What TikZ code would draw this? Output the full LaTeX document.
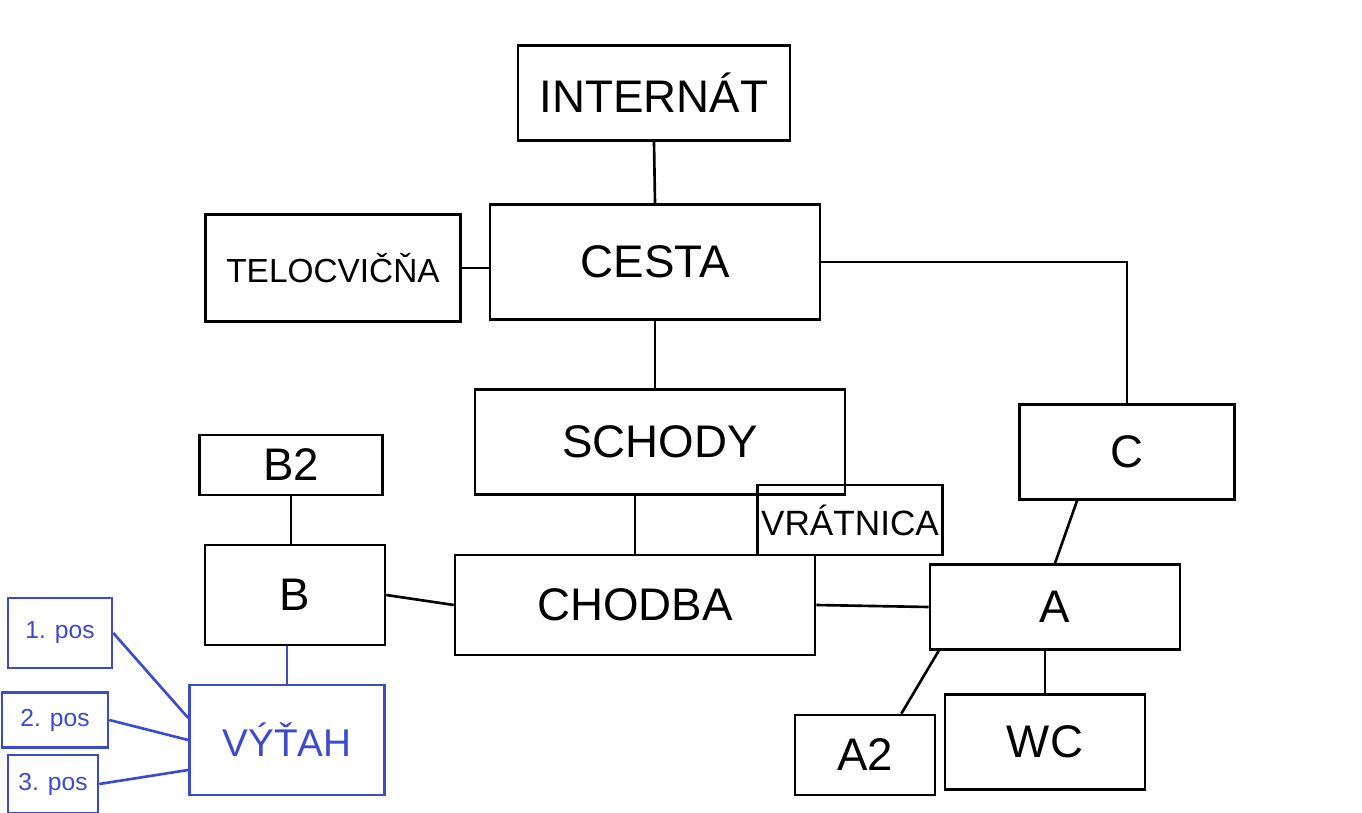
\documentclass[tikz,border=0pt]{standalone}
\usepackage{fontspec}
\setmainfont{Liberation Sans}
\definecolor{penblue}{RGB}{60,75,205}
\tikzset{
  room/.style={draw, line width=1.5pt, inner sep=2pt, font=\fontsize{26}{28}\selectfont},
  liftroom/.style={room, draw=penblue, text=penblue},
  link/.style={line width=1.5pt},
  liftlink/.style={link, penblue}
}
\begin{document}
\begin{tikzpicture}[x=0.02cm, y=-0.02cm]
		\useasboundingbox (0,0) rectangle (1362,813);
		\node[room, minimum width=5.44cm, minimum height=1.9cm] (internat) at (654,93) {INTERNÁT};
		\node[room, minimum width=6.6cm, minimum height=2.3cm] (cesta) at (655,262) {CESTA};
		\node[room, minimum width=5.1cm, minimum height=2.14cm, font=\fontsize{19}{21}\selectfont] (telo) at (333,268) {TELOCVIČŇA};
		\node[room, minimum width=7.4cm, minimum height=2.1cm] (schody) at (660,442) {SCHODY};
		\node[room, minimum width=3.66cm, minimum height=1.2cm] (b2) at (291,465) {B2};
		\node[room, minimum width=3.6cm, minimum height=2cm] (b) at (295,595) {B};
		\node[room, minimum width=7.2cm, minimum height=2cm] (chodba) at (635,605) {CHODBA};
		\node[room, minimum width=3.4cm, minimum height=1.4cm, font=\fontsize{20}{22}\selectfont] (vratnica) at (850,520) {VRÁTNICA};
		\node[room, minimum width=4.3cm, minimum height=1.9cm] (c) at (1127,452) {C};
		\node[room, minimum width=5cm, minimum height=1.7cm] (a) at (1055,607) {A};
		\node[room, minimum width=2.8cm, minimum height=1.6cm] (a2) at (865,755) {A2};
		\node[room, minimum width=4cm, minimum height=1.9cm] (wc) at (1045,742) {WC};
		\node[liftroom, minimum width=3.9cm, minimum height=2.2cm, font=\fontsize{22}{24}\selectfont] (vytah) at (287,740) {VÝŤAH};
		\node[liftroom, minimum width=2.08cm, minimum height=1.4cm, font=\fontsize{14}{16}\selectfont] (pos1) at (60,633) {1. pos};
		\node[liftroom, minimum width=2.12cm, minimum height=1.1cm, font=\fontsize{14}{16}\selectfont] (pos2) at (55,720) {2. pos};
		\node[liftroom, minimum width=1.8cm, minimum height=1.16cm, font=\fontsize{14}{16}\selectfont] (pos3) at (53,784) {3. pos};
		\draw[link] (internat.south) -- (cesta.north);
		\draw[link] (telo.east) -- (telo.east -| cesta.west);
		\draw[link] (cesta.east) -| (c.north);
		\draw[link] (cesta.south) -- (cesta.south |- schody.north);
		\draw[link] (chodba.north |- schody.south) -- (chodba.north);
		\draw[link] (b2.south) -- (b2.south |- b.north);
		\draw[link] (b.east) -- (chodba.west);
		\draw[link] (chodba.east) -- (a.west);
		\draw[link] ([xshift=-1cm]c.south) -- (a.north);
		\draw[link] ([xshift=.2cm]a.south west) -- ([xshift=-.7cm]a2.north east);
		\draw[link] (wc.north |- a.south) -- (wc.north);
		\draw[liftlink] (b.south -| vytah.north) -- (vytah.north);
		\draw[liftlink] (pos1.east) -- ([yshift=.44cm]vytah.west);
		\draw[liftlink] (pos2.east) -- (vytah.west);
		\draw[liftlink] (pos3.east) -- ([yshift=-.6cm]vytah.west);
	\end{tikzpicture}
\end{document}
